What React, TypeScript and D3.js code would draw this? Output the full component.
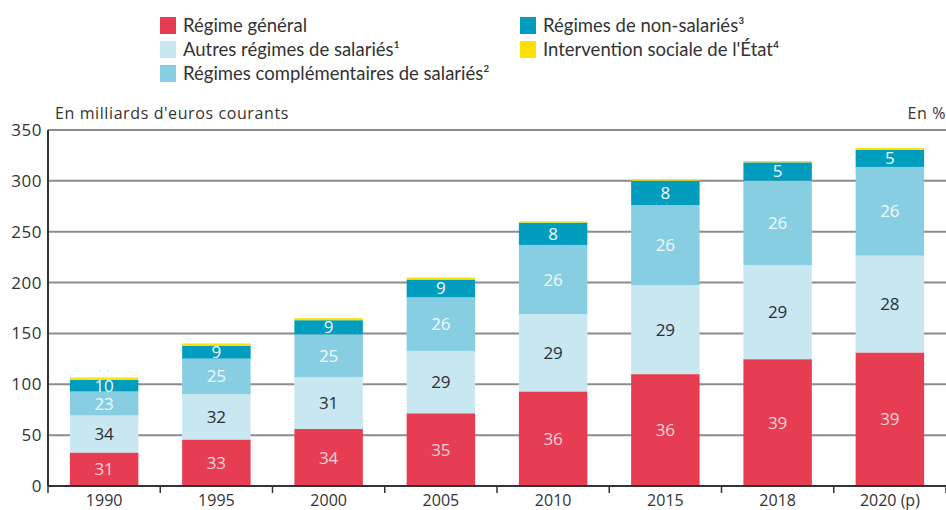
import React from "react";
import * as d3 from "d3";

const years = ["1990", "1995", "2000", "2005", "2010", "2015", "2018", "2020 (p)"];
// Segment heights in billions of euros
const regimeGeneral = [32.9, 45.7, 56, 71.5, 93, 110, 124.7, 131.3];
const autresSalaries = [36.4, 44.6, 51, 61, 76, 87.5, 92.5, 95.1];
const complementaires = [23.6, 34.9, 42, 53, 68, 78.7, 83, 87.3];
const nonSalaries = [11.4, 12.8, 14, 17.5, 22, 24, 18, 17];
const interventionEtat = [2.4, 2.2, 2, 2, 1.2, 1.5, 1.3, 1.7];
// Percentage labels
const pctGeneral = [31, 33, 34, 35, 36, 36, 39, 39];
const pctAutres = [34, 32, 31, 29, 29, 29, 29, 28];
const pctCompl = [23, 25, 25, 26, 26, 26, 26, 26];
const pctNonSal = [10, 9, 9, 9, 8, 8, 5, 5];
const yTicks = [0, 50, 100, 150, 200, 250, 300, 350];

const seriesKeys = ["gen", "autres", "compl", "nonsal", "etat"];
const seriesNames = [
  "Régime général",
  "Autres régimes de salariés¹",
  "Régimes complémentaires de salariés²",
  "Régimes de non-salariés³",
  "Intervention sociale de l'État⁴",
];
const colors = ["#E63D53", "#C8E7F1", "#88CEE2", "#009DBE", "#FFE100"];
const labelColors = ["#F9D3DA", "#2B2D3A", "#F2FAFC", "#F2FAFC", ""];
const pctLabels = [pctGeneral, pctAutres, pctCompl, pctNonSal, null];

const W = 946;
const H = 510;
const left = 48;
const right = 946;
const top = 130;
const bottom = 486;
const font = "'Open Sans', sans-serif";

export default function App() {
  const rows = years.map((y, i) => ({
    year: y,
    gen: regimeGeneral[i],
    autres: autresSalaries[i],
    compl: complementaires[i],
    nonsal: nonSalaries[i],
    etat: interventionEtat[i],
  }));
  const stacked = d3.stack<any>().keys(seriesKeys)(rows);
  const x = d3.scaleBand().domain(years).range([left, right]).paddingInner(0.39).paddingOuter(0.195);
  const step = (right - left) / years.length;
  const y = d3.scaleLinear().domain([0, 350]).range([bottom, top]);

  const legendPos = [
    { x: 160, y: 17 },
    { x: 160, y: 41 },
    { x: 160, y: 65 },
    { x: 520, y: 17 },
    { x: 520, y: 41 },
  ];

  return (
    <svg width={W} height={H} style={{ position: "absolute", left: 0, top: 0, background: "#fff" }}>
      {/* legend */}
      {seriesNames.map((n, i) => (
        <g key={n}>
          <rect x={legendPos[i].x} y={legendPos[i].y} width={16} height={17} fill={colors[i]} />
          <text x={legendPos[i].x + 23} y={legendPos[i].y + 15} fontFamily="Lato, sans-serif" fontSize={18.5} fill="#333">
            {n}
          </text>
        </g>
      ))}
      {/* titles */}
      <text x={55} y={119} fontFamily={font} fontSize={16} letterSpacing={0.6} fill="#333">
        En milliards d'euros courants
      </text>
      <text x={946} y={119} fontFamily={font} fontSize={16} letterSpacing={0.6} fill="#333" textAnchor="end">
        En %
      </text>
      {/* grid */}
      {yTicks.filter((t) => t > 0).map((t) => (
        <line key={t} x1={left} x2={right} y1={y(t)} y2={y(t)} stroke="#8c8c8c" strokeWidth={2} />
      ))}
      {yTicks.map((t) => (
        <text key={"l" + t} x={42} y={y(t) + 6} fontFamily={font} fontSize={17} letterSpacing={0.5} fill="#333" textAnchor="end">
          {t}
        </text>
      ))}
      {/* bars */}
      {stacked.map((s, si) => (
        <g key={s.key}>
          {s.map((d, i) => (
            <rect
              key={i}
              x={x(years[i])}
              width={x.bandwidth()}
              y={y(d[1])}
              height={y(d[0]) - y(d[1])}
              fill={colors[si]}
            />
          ))}
        </g>
      ))}
      {/* segment labels */}
      {stacked.map((s, si) =>
        pctLabels[si]
          ? s.map((d, i) => (
              <text
                key={s.key + i}
                x={(x(years[i]) as number) + x.bandwidth() / 2}
                y={(y(d[0]) + y(d[1])) / 2 + 6}
                textAnchor="middle"
                fontFamily={font}
                fontSize={17}
                fill={labelColors[si]}
              >
                {(pctLabels[si] as number[])[i]}
              </text>
            ))
          : null
      )}
      {/* axes */}
      <line x1={left} x2={left} y1={top} y2={bottom} stroke="#333" strokeWidth={2} />
      <line x1={left} x2={right} y1={bottom} y2={bottom} stroke="#333" strokeWidth={2} />
      {d3.range(years.length + 1).map((i) => (
        <line key={"t" + i} x1={left + i * step} x2={left + i * step} y1={bottom} y2={bottom + 7} stroke="#333" strokeWidth={1.5} />
      ))}
      {years.map((yr) => (
        <text
          key={"x" + yr}
          x={(x(yr) as number) + x.bandwidth() / 2}
          y={506}
          textAnchor="middle"
          fontFamily={font}
          fontSize={16}
          fill="#333"
        >
          {yr}
        </text>
      ))}
    </svg>
  );
}
